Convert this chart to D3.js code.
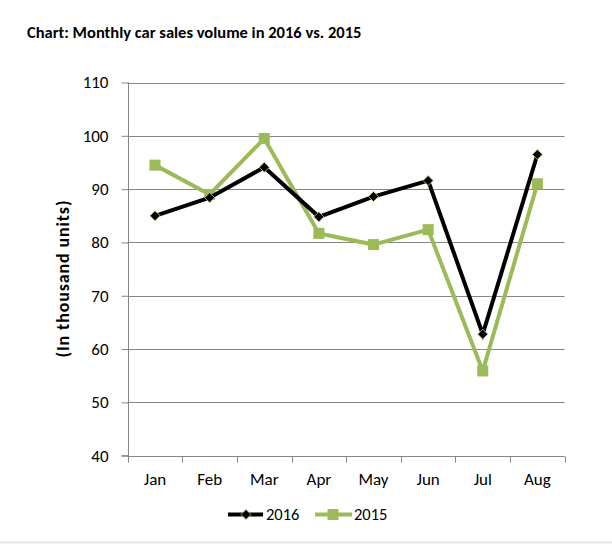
<!DOCTYPE html>
<html><head><meta charset="utf-8">
<script src="https://cdn.jsdelivr.net/npm/d3@7"></script>
<style>body{margin:0;background:#fff}svg{display:block}</style>
</head><body>
<script>
const months = ["Jan","Feb","Mar","Apr","May","Jun","Jul","Aug"];
const sales2016 = [85.0, 88.4, 94.1, 84.8, 88.6, 91.6, 62.8, 96.5];
const sales2015 = [94.5, 89.0, 99.5, 81.7, 79.6, 82.4, 55.9, 91.0];
const yTicks = [40, 50, 60, 70, 80, 90, 100, 110];
const seriesNames = ["2016", "2015"];

const W = 612, H = 546;
const margin = {left: 127.7, right: 612 - 564.7, top: 82.5, bottom: 546 - 455.7};
const svg = d3.select("body").append("svg").attr("width", W).attr("height", H);
const font = "Carlito, Calibri, 'Open Sans', sans-serif";

const x = d3.scaleBand().domain(months).range([margin.left, W - margin.right]);
const y = d3.scaleLinear().domain([40, 110]).range([H - margin.bottom, margin.top]);

// bottom border line
svg.append("line").attr("x1", 0).attr("x2", W).attr("y1", 542.5).attr("y2", 542.5)
  .attr("stroke", "#e6e6e6").attr("stroke-width", 2);

// Title
svg.append("text").attr("x", 27).attr("y", 38).text("Chart: Monthly car sales volume in 2016 vs. 2015")
  .attr("font-family", font).attr("font-weight", "bold").attr("font-size", 16.5).attr("fill", "#000");

// gridlines
svg.append("g").selectAll("line").data(yTicks.filter(d => d > 40)).join("line")
  .attr("x1", margin.left).attr("x2", W - margin.right)
  .attr("y1", d => Math.round(y(d)) + 0.5).attr("y2", d => Math.round(y(d)) + 0.5)
  .attr("stroke", "#868686").attr("stroke-width", 1);

// y axis
const yAxis = svg.append("g").attr("transform", `translate(${Math.round(margin.left) + 0.5},0)`)
  .call(d3.axisLeft(y).tickValues(yTicks).tickSize(7).tickPadding(13));
yAxis.selectAll("path,line").attr("stroke", "#868686");
yAxis.selectAll("text").attr("font-family", font).attr("font-size", 17).attr("fill", "#000");
yAxis.select(".domain").attr("d", `M-7,${y(40)}H0V${y(110)}`);

// x axis
const xAxis = svg.append("g").attr("transform", `translate(0,${Math.round(y(40)) + 0.5})`)
  .call(d3.axisBottom(x).tickSize(0).tickPadding(16));
xAxis.select(".domain").attr("stroke", "#868686").attr("d", `M${margin.left},0H${W - margin.right}`);
xAxis.selectAll("text").attr("font-family", font).attr("font-size", 17).attr("fill", "#000");
const edges = months.map(m => x(m)).concat([W - margin.right]);
xAxis.append("g").selectAll("line").data(edges).join("line")
  .attr("x1", d => Math.round(d) + 0.5).attr("x2", d => Math.round(d) + 0.5)
  .attr("y1", 0).attr("y2", 6).attr("stroke", "#868686");

// y title
svg.append("text").attr("transform", `translate(69,${279}) rotate(-90)`)
  .attr("text-anchor", "middle").text("(In thousand units)")
  .attr("textLength", 157).attr("lengthAdjust", "spacing")
  .attr("font-family", font).attr("font-weight", "bold").attr("font-size", 18);

const cx = m => x(m) + x.bandwidth() / 2;
const green = "#9BBB59";
const line = d3.line().x((d, i) => cx(months[i])).y(d => y(d));

// 2015 series
svg.append("path").datum(sales2015).attr("d", line).attr("fill", "none")
  .attr("stroke", green).attr("stroke-width", 4).attr("stroke-linejoin", "miter");
svg.append("g").selectAll("rect").data(sales2015).join("rect")
  .attr("x", (d, i) => cx(months[i]) - 5.5).attr("y", d => y(d) - 5.5)
  .attr("width", 11).attr("height", 11).attr("fill", green);

// 2016 series
svg.append("path").datum(sales2016).attr("d", line).attr("fill", "none")
  .attr("stroke", "#000").attr("stroke-width", 4).attr("stroke-linejoin", "miter");
const diamond = d3.symbol().type(d3.symbolSquare).size(50);
svg.append("g").selectAll("path").data(sales2016).join("path")
  .attr("d", diamond).attr("transform", (d, i) => `translate(${cx(months[i])},${y(d)}) rotate(45)`)
  .attr("fill", "#000").attr("stroke", "#b9c98a").attr("stroke-width", 0.8);

// legend
const lg = svg.append("g").attr("transform", "translate(0,514.5)");
lg.append("line").attr("x1", 228).attr("x2", 263).attr("y1", 0).attr("y2", 0)
  .attr("stroke", "#000").attr("stroke-width", 4);
lg.append("path").attr("d", diamond).attr("transform", "translate(246,0) rotate(45)")
  .attr("fill", "#000").attr("stroke", "#b9c98a").attr("stroke-width", 0.8);
lg.append("text").attr("x", 266).attr("y", 5.5).text(seriesNames[0])
  .attr("font-family", font).attr("font-size", 16.5);
lg.append("line").attr("x1", 315).attr("x2", 352).attr("y1", 0).attr("y2", 0)
  .attr("stroke", green).attr("stroke-width", 4);
lg.append("rect").attr("x", 333 - 5.5).attr("y", -5.5).attr("width", 11).attr("height", 11).attr("fill", green);
lg.append("text").attr("x", 354).attr("y", 5.5).text(seriesNames[1])
  .attr("font-family", font).attr("font-size", 16.5);
</script>
</body></html>
